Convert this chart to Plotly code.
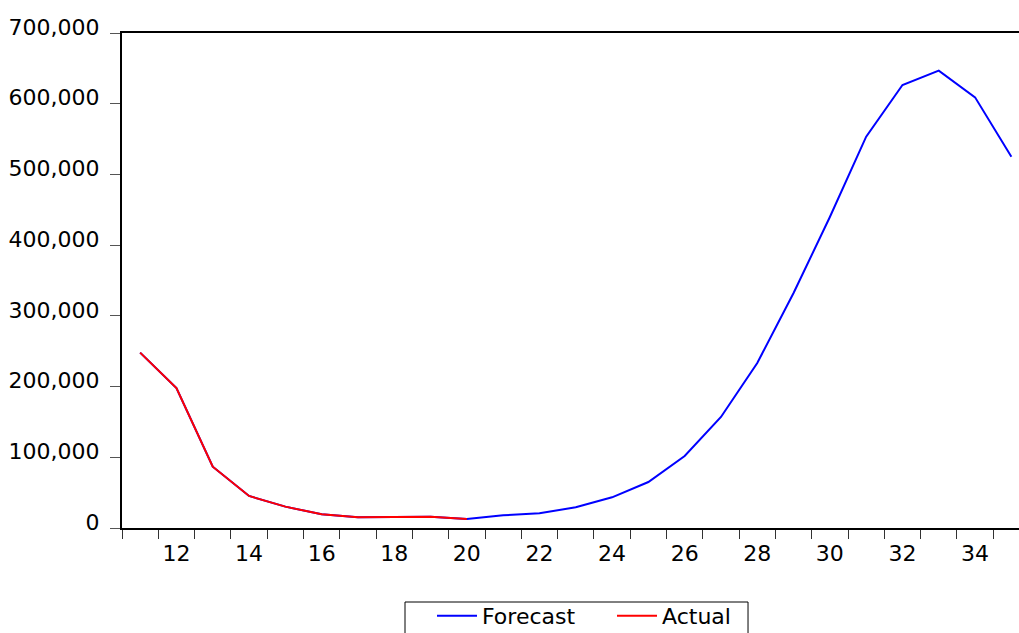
import plotly.graph_objects as go

periods = list(range(11, 36))
forecast = [248000, 198000, 86700, 45300, 30200, 19300, 15100, 15500, 16000, 12700,
            18000, 20800, 29300, 43400, 65000, 101800, 157000, 233300, 332300, 439800,
            553400, 626500, 646700, 609000, 525000]
actual_periods = list(range(11, 21))
actual = [248000, 198000, 86700, 45300, 30200, 19300, 15100, 15500, 16000, 12700]

x_labels = [12, 14, 16, 18, 20, 22, 24, 26, 28, 30, 32, 34]
y_ticks = [0, 100000, 200000, 300000, 400000, 500000, 600000, 700000]

FONT = "DejaVu Sans"

fig = go.Figure()
fig.add_trace(go.Scatter(x=periods, y=forecast, mode="lines", name="Forecast",
                         line=dict(color="#0000FF", width=2)))
fig.add_trace(go.Scatter(x=actual_periods, y=actual, mode="lines", name="Actual",
                         line=dict(color="#FF0000", width=2)))

# legend frame (EViews style box, partly cut at the bottom edge)
fig.add_shape(type="rect", xref="paper", yref="paper",
              x0=0.3155, x1=0.6979, y0=-0.1495, y1=-0.2465,
              line=dict(color="black", width=1), fillcolor="white", layer="below")

fig.update_layout(
    width=1019, height=633,
    margin=dict(l=122, r=0, t=33, b=105, autoexpand=False),
    paper_bgcolor="white", plot_bgcolor="white",
    font=dict(family=FONT, size=22, color="black"),
    showlegend=True,
    legend=dict(orientation="h", x=0.3456, xanchor="left", y=-0.135, yanchor="top",
                bgcolor="rgba(0,0,0,0)", borderwidth=0,
                itemwidth=40, entrywidth=125, entrywidthmode="pixels",
                font=dict(family=FONT, size=22, color="black")),
    xaxis=dict(range=[10.5, 35.21], tickvals=x_labels, ticktext=[str(v) for v in x_labels],
               ticks="", showgrid=False, zeroline=False,
               showline=True, linecolor="black", linewidth=2, mirror=True,
               minor=dict(tickvals=[v + 0.5 for v in range(10, 36)], ticks="outside",
                          ticklen=9, tickwidth=1, tickcolor="#333", showgrid=False),
               ticklabelstandoff=5,
               tickfont=dict(family=FONT, size=22)),
    yaxis=dict(range=[0, 700000], tickvals=y_ticks, tickformat=",",
               ticks="outside", ticklen=10, tickwidth=1, tickcolor="#555",
               showgrid=False, zeroline=False,
               showline=True, linecolor="black", linewidth=2, mirror=False,
               ticklabelstandoff=6, ticklabelshift=-6,
               tickfont=dict(family=FONT, size=22)),
)

fig.write_html("out.html", config={"displayModeBar": False},
               post_script="document.body.style.margin='0';document.body.style.overflow='hidden';")
